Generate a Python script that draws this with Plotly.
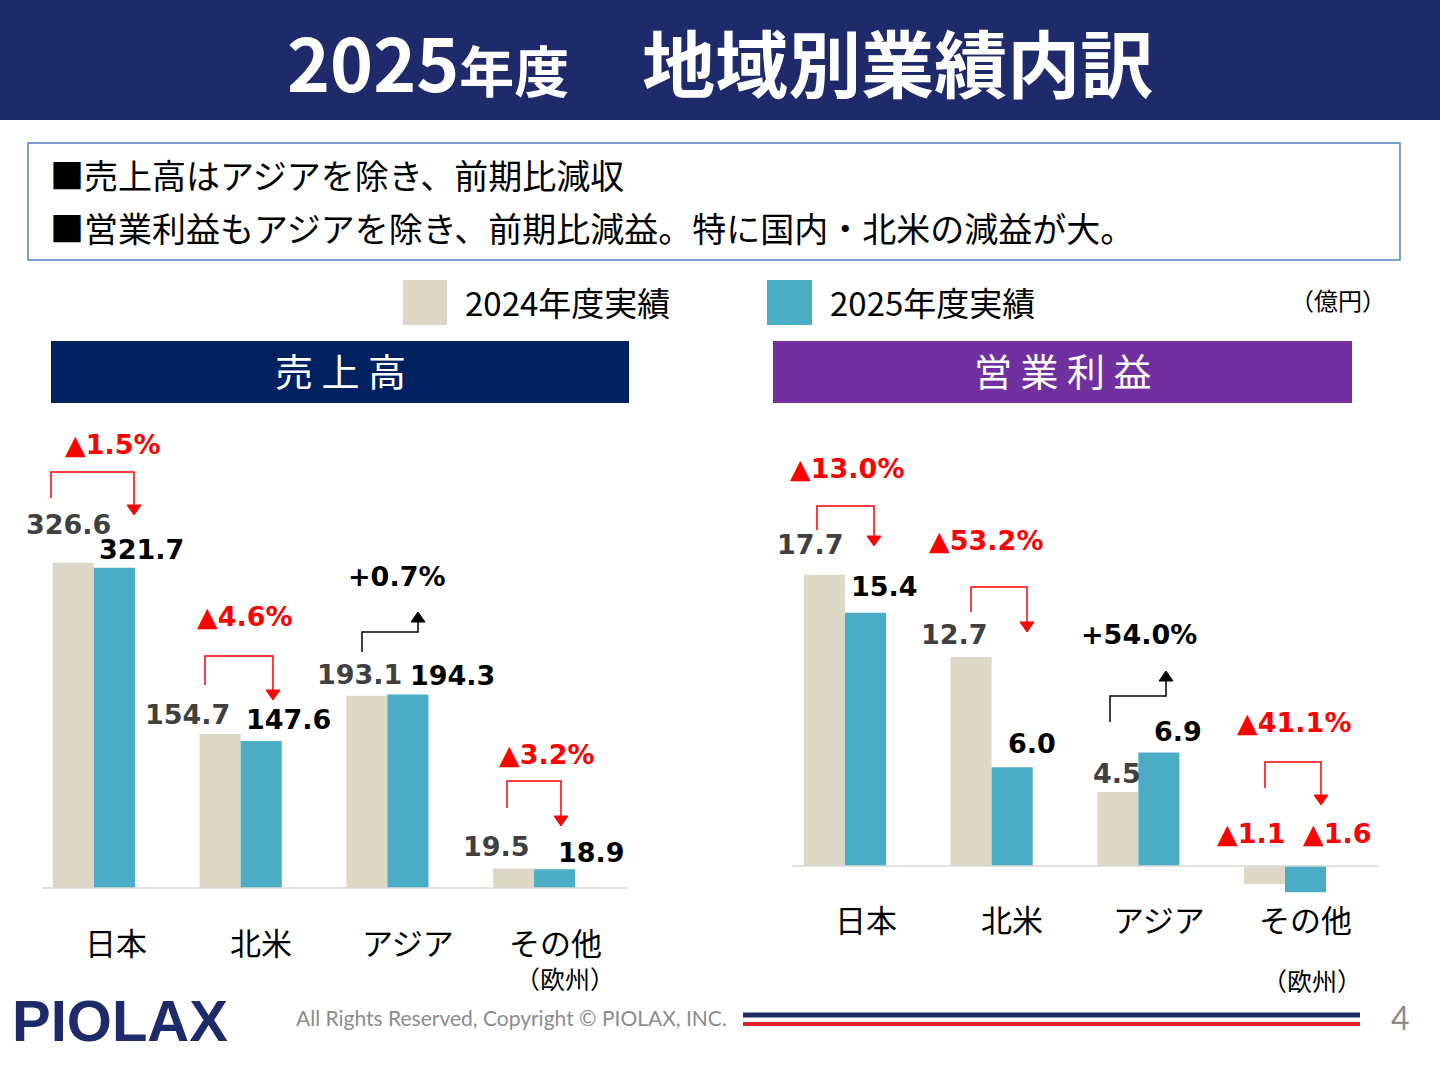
import plotly.graph_objects as go

W, H = 1440, 1080
def X(p): return p / W
def Y(p): return 1 - p / H

categories = ["日本", "北米", "アジア", "その他"]
sales_2024 = [326.6, 154.7, 193.1, 19.5]
sales_2025 = [321.7, 147.6, 194.3, 18.9]
op_2024 = [17.7, 12.7, 4.5, -1.1]
op_2025 = [15.4, 6.0, 6.9, -1.6]
sales_labels_2024 = ["326.6", "154.7", "193.1", "19.5"]
sales_labels_2025 = ["321.7", "147.6", "194.3", "18.9"]
op_labels_2024 = ["17.7", "12.7", "4.5", "▲1.1"]
op_labels_2025 = ["15.4", "6.0", "6.9", "▲1.6"]

C24, C25 = "#DDD8C5", "#4BACC6"
JP = "Noto Sans CJK JP"
NUM = "DejaVu Sans"
xs = [0, 1, 2, 3]

fig = go.Figure()
for xa, ya, v24, v25 in [("x", "y", sales_2024, sales_2025), ("x2", "y2", op_2024, op_2025)]:
    fig.add_trace(go.Bar(x=xs, y=v24, width=0.28, offset=-0.28, marker_color=C24,
                         marker_line_width=0, xaxis=xa, yaxis=ya, showlegend=False))
    fig.add_trace(go.Bar(x=xs, y=v25, width=0.28, offset=0, marker_color=C25,
                         marker_line_width=0, xaxis=xa, yaxis=ya, showlegend=False))

ax = dict(showgrid=False, showticklabels=False, zeroline=False, showline=False, ticks="")
fig.update_layout(
    width=W, height=H, margin=dict(l=0, r=0, t=0, b=0),
    paper_bgcolor="white", plot_bgcolor="rgba(0,0,0,0)",
    xaxis=dict(domain=[X(42), X(628)], range=[-0.354, 3.64], **ax),
    yaxis=dict(domain=[Y(888), Y(420)], range=[0, 470], **ax),
    xaxis2=dict(domain=[X(792), X(1378)], range=[-0.361, 3.634], **ax),
    yaxis2=dict(domain=[Y(900), Y(420)], range=[-34 / 16.45, 446 / 16.45], **ax),
)

shapes = []
def rect(x0, y0, x1, y1, fill, line=None, lw=0):
    shapes.append(dict(type="rect", xref="paper", yref="paper", x0=X(x0), x1=X(x1), y0=Y(y0), y1=Y(y1),
                       fillcolor=fill, line=dict(color=line or fill, width=lw), layer="below"))
def hline(x0, x1, y, color, w):
    shapes.append(dict(type="line", xref="paper", yref="paper", x0=X(x0), x1=X(x1), y0=Y(y), y1=Y(y),
                       line=dict(color=color, width=w)))
def bracket(x0, yb, ytop, x1, yend, color):
    path = f"M {X(x0)} {Y(yb)} L {X(x0)} {Y(ytop)} L {X(x1)} {Y(ytop)} L {X(x1)} {Y(yend)}"
    shapes.append(dict(type="path", xref="paper", yref="paper", path=path, line=dict(color=color, width=1.5)))
    d = 1 if yend > ytop else -1
    tip = yend + d * 10
    tri = f"M {X(x1-7)} {Y(yend)} L {X(x1+7)} {Y(yend)} L {X(x1)} {Y(tip)} Z"
    shapes.append(dict(type="path", xref="paper", yref="paper", path=tri, fillcolor=color, line=dict(color=color, width=1)))

rect(0, 0, 1440, 120, "#1F2A6B")
rect(28, 143, 1400, 260, "white", "#4F81BD", 1.5)
rect(403, 280, 447, 325, C24)
rect(767, 280, 812, 325, C25)
rect(51, 341, 629, 403, "#002060")
rect(773, 341, 1352, 403, "#7030A0")
hline(42, 628, 888, "#D9D9D9", 1.5)
hline(792, 1378, 866, "#D9D9D9", 1.5)
hline(743, 1360, 1015, "#1F2A6B", 5)
hline(743, 1360, 1024, "#E31E24", 4)

RED, BLK = "#FF0000", "black"
bracket(51, 498, 472, 134, 505, RED)
bracket(205, 685, 656, 273, 690, RED)
bracket(362, 652, 632, 418, 622, BLK)
bracket(507, 808, 781, 561, 816, RED)
bracket(817, 530, 506, 874, 536, RED)
bracket(971, 612, 587, 1027, 622, RED)
bracket(1110, 722, 696, 1166, 681, BLK)
bracket(1265, 788, 762, 1321, 795, RED)
fig.update_layout(shapes=shapes)

ann = []
def T(x, y, s, size, color="black", font=JP, bold=False, anchor="center"):
    if bold: s = f"<b>{s}</b>"
    ann.append(dict(xref="paper", yref="paper", x=X(x), y=Y(y), text=s, showarrow=False,
                    xanchor=anchor, yanchor="middle", font=dict(family=font, size=size, color=color)))

T(720, 60, "<b>2025<span style='font-size:55px'>年度</span>　地域別業績内訳</b>", 73, "white", JP)
T(48, 175, "■売上高はアジアを除き、前期比減収", 34, anchor="left")
T(48, 227, "■営業利益もアジアを除き、前期比減益。特に国内・北米の減益が大。", 34, anchor="left")
T(463, 302, "2024年度実績", 33, anchor="left")
T(828, 302, "2025年度実績", 33, anchor="left")
T(1338, 299, "（億円）", 24)
T(340, 369, "売 上 高", 38, "white")
T(1063, 369, "営 業 利 益", 38, "white")

G = "#404040"
for x, y, s in [(68, 524, 0), (187, 714, 1), (359, 674, 2), (496, 846, 3)]:
    T(x, y, sales_labels_2024[s], 27, G, NUM, True)
for x, y, s in [(141, 549, 0), (288, 719, 1), (452, 675, 2), (591, 852, 3)]:
    T(x, y, sales_labels_2025[s], 27, BLK, NUM, True)
for x, y, s in [(810, 544, 0), (954, 634, 1), (1117, 773, 2)]:
    T(x, y, op_labels_2024[s], 27, G, NUM, True)
for x, y, s in [(884, 586, 0), (1032, 743, 1), (1178, 731, 2)]:
    T(x, y, op_labels_2025[s], 27, BLK, NUM, True)
T(1251, 833, op_labels_2024[3], 27, RED, NUM, True)
T(1337, 833, op_labels_2025[3], 27, RED, NUM, True)

for x, y, s, c in [(113, 445, "▲1.5%", RED), (245, 616, "▲4.6%", RED), (397, 576, "+0.7%", BLK),
                   (547, 754, "▲3.2%", RED), (847, 468, "▲13.0%", RED), (986, 540, "▲53.2%", RED),
                   (1139, 635, "+54.0%", BLK), (1294, 722, "▲41.1%", RED)]:
    T(x, y, s, 27, c, NUM, True)

for x, c in zip([116, 261, 408, 555], categories):
    T(x, 941, c, 31)
T(565, 978, "（欧州）", 25)
for x, c in zip([866, 1012, 1159, 1305], categories):
    T(x, 918, c, 31)
T(1312, 980, "（欧州）", 25)

T(10, 1020, "<b>PIOLAX</b>", 58, "#1F2A6B", "Liberation Sans", anchor="left")
T(511, 1017, "All Rights Reserved, Copyright © PIOLAX, INC.", 21, "#8C8C8C", "Lato")
T(1400, 1017, "4", 32, "#8C8C8C", "Lato")
fig.update_layout(annotations=ann)

fig.write_html("out.html", config={"displayModeBar": False},
               post_script="document.body.style.margin='0';document.body.style.overflow='hidden';")
